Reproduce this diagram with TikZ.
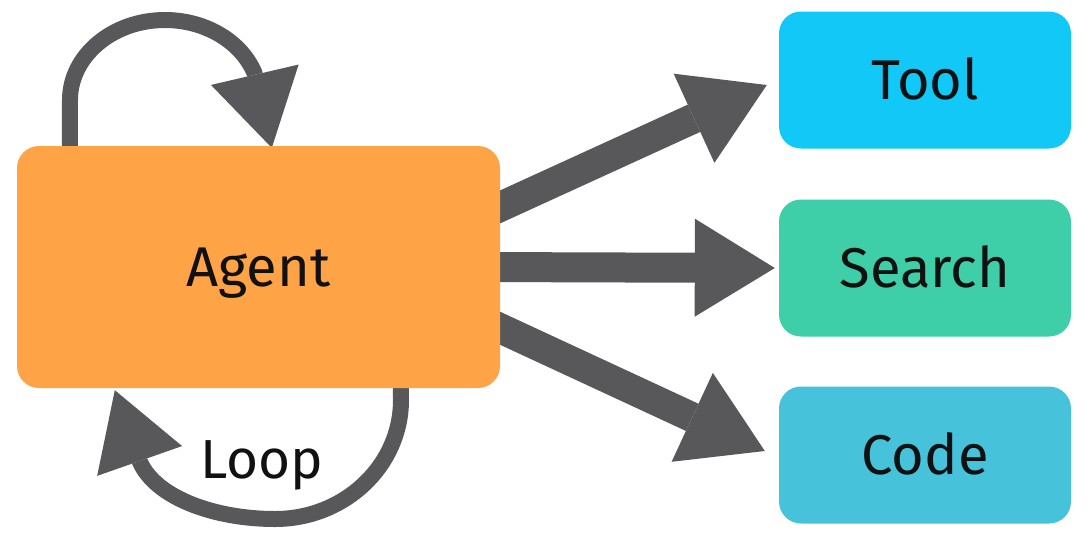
\documentclass[tikz,border=0pt]{standalone}
\usepackage{fontspec}
\setmainfont{Fira Sans}
\usetikzlibrary{arrows.meta}
\definecolor{agentc}{HTML}{FFA347}
\definecolor{toolc}{HTML}{12C8F7}
\definecolor{searchc}{HTML}{3ECFA8}
\definecolor{codec}{HTML}{46C2DB}
\definecolor{arrowc}{HTML}{58575A}
\definecolor{txt}{HTML}{111111}
\pgfdeclarelayer{bg}
\pgfsetlayers{bg,main}
\begin{document}
\begin{tikzpicture}[x=1pt,y=-1pt,
  box/.style={rectangle, rounded corners=22pt, inner sep=0pt, text height=39pt, text depth=0pt,
    font=\fontsize{56}{60}\selectfont, text=txt},
  sidebox/.style={box, minimum width=292pt, minimum height=137pt},
  bigarrow/.style={draw=arrowc, line width=30pt, -{Triangle[length=80pt,width=98pt,line width=0pt]}},
  loopline/.style={draw=arrowc, line width=16pt, -{Triangle[length=75pt,width=90pt,line width=0pt]}},
  looptext/.style={font=\fontsize{55}{60}\selectfont, text=txt, inner sep=0pt, anchor=base}
]
\useasboundingbox (0,0) rectangle (1090,550);

\node[box, fill=agentc, minimum width=483pt, minimum height=242pt] (agent) at (258.5,267) {Agent};
\node[sidebox, fill=toolc] (tool) at (925,80) {Tool};
\node[sidebox, fill=searchc] (search) at (925,268) {Search};
\node[sidebox, fill=codec] (code) at (925,455) {Code};

\begin{pgfonlayer}{bg}
\fill[white] (0,0) rectangle (1090,550);
\draw[bigarrow] ([xshift=-20pt,yshift=51pt]agent.east) -- ([xshift=-12pt,yshift=-5pt]tool.west);
\draw[bigarrow] ([xshift=-20pt]agent.east) -- ([xshift=-4pt]search.west);
\draw[bigarrow] ([xshift=-20pt,yshift=-52pt]agent.east) -- ([xshift=-14pt,yshift=4pt]code.west);

\draw[loopline] ([xshift=53pt,yshift=-15pt]agent.north west) -- (70,100)
  .. controls (70,55.8) and (112.6,20) .. (165,20)
  .. controls (204.9,20) and (240.7,41) .. (254.3,72.6)
  -- ([xshift=255pt,yshift=-2pt]agent.north west);
\draw[loopline] ([xshift=384pt,yshift=15pt]agent.south west) -- (401,400)
  .. controls (401,465.7) and (344.6,519) .. (275,519)
  .. controls (215,519) and (156,498) .. (140,462)
  -- ([xshift=98pt,yshift=-2pt]agent.south west);
\end{pgfonlayer}

\node[looptext] (looplabel) at (262,478) {Loop};
\end{tikzpicture}
\end{document}
